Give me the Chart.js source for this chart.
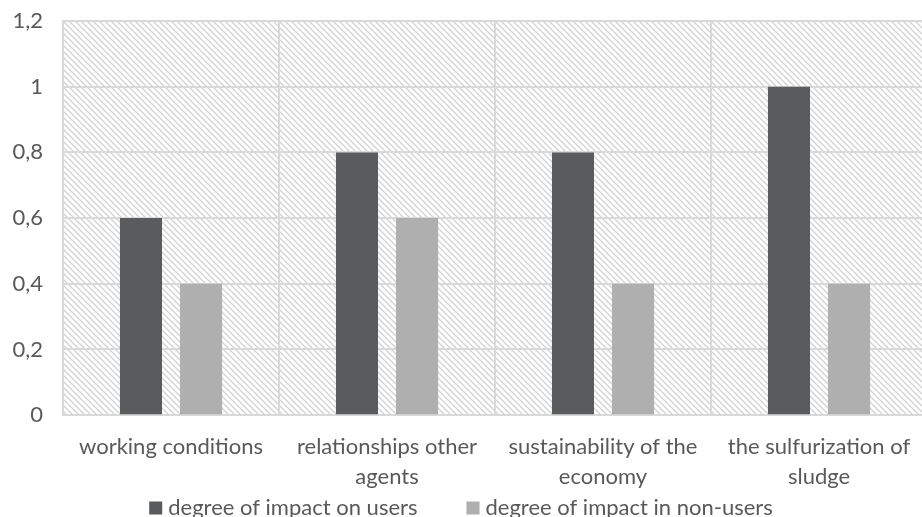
<!DOCTYPE html>
<html>
<head>
<meta charset="utf-8">
<script src="https://cdn.jsdelivr.net/npm/chart.js@4/dist/chart.umd.min.js"></script>
<style>
  html, body { margin: 0; padding: 0; background: #ffffff; overflow: hidden; }
  #wrap { width: 922px; height: 517px; overflow: hidden; }
</style>
</head>
<body>
<div id="wrap"><canvas id="chart" width="932" height="517"></canvas></div>
<script>
// Categories and series values
const categories = [
  ["working conditions"],
  ["relationships other", "agents"],
  ["sustainability of the", "economy"],
  ["the sulfurization of", "sludge"]
];
const usersImpact = [0.6, 0.8, 0.8, 1.0];
const nonUsersImpact = [0.4, 0.6, 0.4, 0.4];
const seriesNames = ["degree of impact on users", "degree of impact in non-users"];
const yTicks = [0, 0.2, 0.4, 0.6, 0.8, 1, 1.2];

const TEXT = "#595959";
const FONT = "Lato";
const FONT_SIZE = 22;

// Diagonal hatch used as the plot-area background
function makeHatch() {
  const s = 6;
  const c = document.createElement("canvas");
  c.width = s; c.height = s;
  const g = c.getContext("2d");
  g.fillStyle = "#ffffff";
  g.fillRect(0, 0, s, s);
  g.strokeStyle = "#d2d2d2";
  g.lineWidth = 1.3;
  g.beginPath();
  g.moveTo(-1, -1); g.lineTo(s + 1, s + 1);
  g.moveTo(-1, s - 1); g.lineTo(1, s + 1);
  g.moveTo(s - 1, -1); g.lineTo(s + 1, 1);
  g.stroke();
  return g.createPattern(c, "repeat");
}

const hatchBackground = {
  id: "hatchBackground",
  beforeDraw(chart) {
    const { ctx, chartArea: a } = chart;
    ctx.save();
    ctx.fillStyle = makeHatch();
    ctx.fillRect(a.left, a.top, a.right - a.left, a.bottom - a.top);
    ctx.restore();
  }
};

// Single-row legend under the axis labels, centred in the visible width
const bottomLegend = {
  id: "bottomLegend",
  afterDraw(chart) {
    const { ctx } = chart;
    const box = 13, textGap = 6, itemGap = 49;
    const y = 508;
    ctx.save();
    ctx.font = FONT_SIZE + "px " + FONT;
    ctx.textBaseline = "middle";
    ctx.textAlign = "left";
    const items = chart.data.datasets.map(ds => ({
      text: ds.label, color: ds.backgroundColor, w: ctx.measureText(ds.label).width
    }));
    const total = items.reduce((s, it) => s + box + textGap + it.w, 0) + itemGap * (items.length - 1);
    let x = 461 - total / 2;
    items.forEach(it => {
      ctx.fillStyle = it.color;
      ctx.fillRect(x, y - box / 2, box, box);
      x += box + textGap;
      ctx.fillStyle = TEXT;
      ctx.fillText(it.text, x, y);
      x += it.w + itemGap;
    });
    ctx.restore();
  }
};

new Chart(document.getElementById("chart"), {
  type: "bar",
  data: {
    labels: categories,
    datasets: [
      { label: seriesNames[0], data: usersImpact, backgroundColor: "#5a5b5d",
        categoryPercentage: 0.556, barPercentage: 0.7 },
      { label: seriesNames[1], data: nonUsersImpact, backgroundColor: "#afafaf",
        categoryPercentage: 0.556, barPercentage: 0.7 }
    ]
  },
  plugins: [hatchBackground, bottomLegend],
  options: {
    responsive: false,
    animation: false,
    layout: { padding: { top: 0, right: 5, bottom: 8, left: 0 } },
    plugins: {
      tooltip: { enabled: false },
      legend: { display: false }
    },
    scales: {
      x: {
        grid: { color: "#d9d9d9", lineWidth: 2, drawTicks: false, offset: true },
        border: { color: "#d9d9d9", width: 2 },
        ticks: {
          color: TEXT,
          font: { family: FONT, size: FONT_SIZE, lineHeight: 1.36 },
          padding: 17,
          maxRotation: 0,
          autoSkip: false
        }
      },
      y: {
        min: 0,
        max: 1.2,
        afterFit(scale) { scale.width = 63; scale.paddingTop = 21; },
        afterBuildTicks(scale) { scale.ticks = yTicks.map(v => ({ value: v })); },
        grid: { color: "#d9d9d9", lineWidth: 2, drawTicks: false },
        border: { color: "#d9d9d9", width: 2 },
        ticks: {
          color: TEXT,
          font: { family: FONT, size: FONT_SIZE },
          padding: 20,
          callback: v => String(v).replace(".", ",")
        }
      }
    }
  }
});
</script>
</body>
</html>
